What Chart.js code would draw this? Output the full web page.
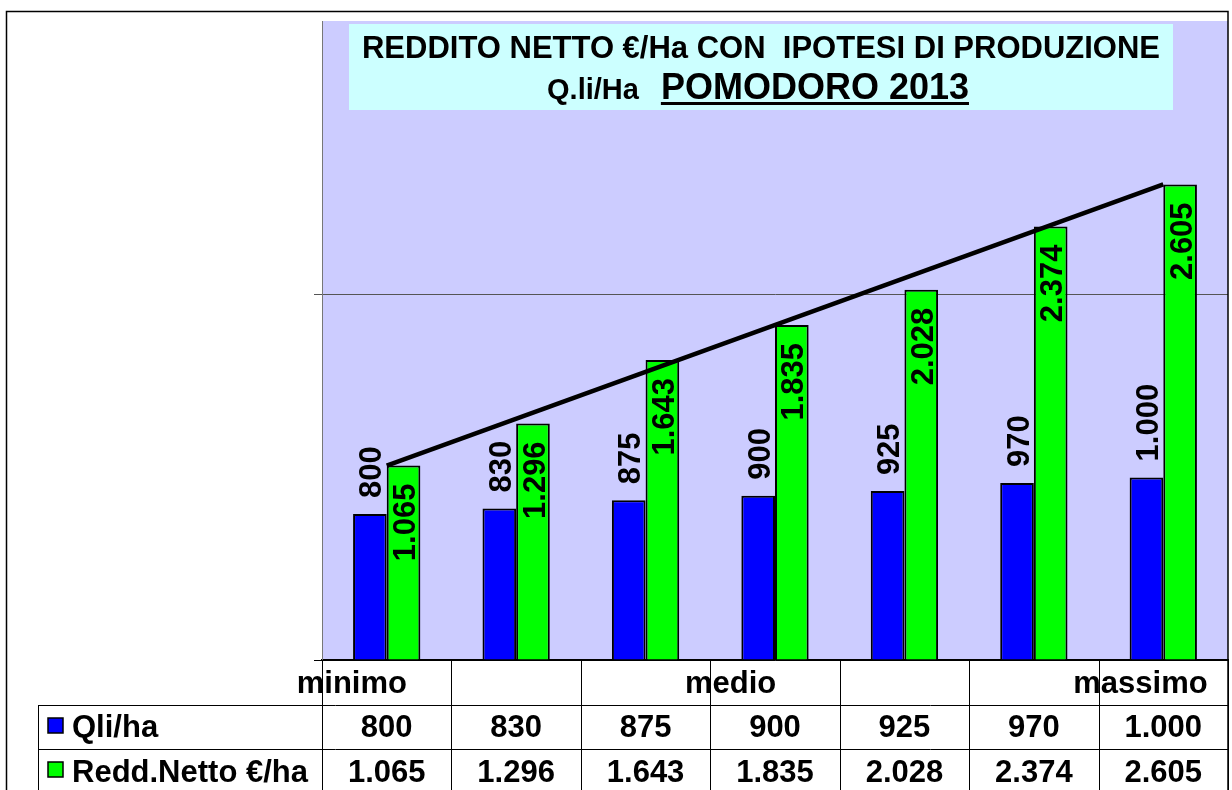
<!DOCTYPE html>
<html>
<head>
<meta charset="utf-8">
<script src="https://cdn.jsdelivr.net/npm/chart.js@4.4.0/dist/chart.umd.min.js"></script>
<style>
  html, body { margin: 0; padding: 0; background: #fff; }
  #wrap { width: 1232px; height: 790px; position: relative; }
</style>
</head>
<body>
<div id="wrap"><canvas id="grafico"></canvas></div>
<script>
// dati del grafico
const categorie = ["minimo", "", "", "medio", "", "", "massimo"];
const qliHa = [800, 830, 875, 900, 925, 970, 1000];
const reddNetto = [1065, 1296, 1643, 1835, 2028, 2374, 2605];
const nomiSerie = ["Qli/ha", "Redd.Netto €/ha"];
const yTicks = [0, 2000, 3500];
const titolo1 = "REDDITO NETTO €/Ha CON  IPOTESI DI PRODUZIONE";
const titolo2a = "Q.li/Ha";
const titolo2b = "POMODORO 2013";

const font = "'Liberation Sans', Arial, sans-serif";
const fmt = v => String(v).replace(/\B(?=(\d{3})+(?!\d))/g, ".");
const ultimo = reddNetto.length - 1;
// linea dal primo all'ultimo valore del reddito
const linea = reddNetto.map((v, i) => (i === 0 || i === ultimo) ? v : null);

const disegno = {
  id: "disegno",
  beforeDraw(chart) {
    const { ctx, chartArea: a } = chart;
    ctx.save();
    ctx.fillStyle = "#fff";
    ctx.fillRect(0, 0, chart.width, chart.height);
    ctx.fillStyle = "#CCCCFF";
    ctx.fillRect(a.left, a.top, a.right - a.left, a.bottom - a.top);
    ctx.restore();
  },
  afterDatasetsDraw(chart) {
    const ctx = chart.ctx;
    ctx.save();
    ctx.font = "bold 31px " + font;
    ctx.fillStyle = "#000";
    ctx.textBaseline = "middle";
    chart.getDatasetMeta(0).data.forEach((bar, i) => {
      ctx.save();
      ctx.translate(bar.x + 3, bar.y - 16);
      ctx.rotate(-Math.PI / 2);
      ctx.textAlign = "left";
      ctx.fillText(fmt(qliHa[i]), 0, 0);
      ctx.restore();
    });
    chart.getDatasetMeta(1).data.forEach((bar, i) => {
      ctx.save();
      ctx.translate(bar.x + 3, bar.y + 18);
      ctx.rotate(-Math.PI / 2);
      ctx.textAlign = "right";
      ctx.fillText(fmt(reddNetto[i]), 0, 0);
      ctx.restore();
    });
    ctx.restore();
  },
  afterDraw(chart) {
    const { ctx, chartArea: a } = chart;
    const x = chart.scales.x;
    ctx.save();

    // titolo
    ctx.fillStyle = "#CCFFFF";
    ctx.fillRect(349, 24, 824, 86);
    ctx.fillStyle = "#000";
    ctx.textBaseline = "alphabetic";
    ctx.textAlign = "center";
    ctx.font = "bold 31px " + font;
    ctx.fillText(titolo1, 761, 58);
    ctx.textAlign = "left";
    ctx.font = "bold 29px " + font;
    const w1 = ctx.measureText(titolo2a).width;
    ctx.font = "bold 36px " + font;
    const w2 = ctx.measureText(titolo2b).width;
    const gap = 22;
    let tx = 758 - (w1 + gap + w2) / 2;
    ctx.font = "bold 29px " + font;
    ctx.fillText(titolo2a, tx, 99);
    tx += w1 + gap;
    ctx.font = "bold 36px " + font;
    ctx.fillText(titolo2b, tx, 99);
    ctx.fillRect(tx, 102, w2, 3);

    // tabella dati
    const r0 = a.bottom, r1 = r0 + 45, r2 = r1 + 44, r3 = r2 + 44;
    const colW = (a.right - a.left) / categorie.length;
    ctx.strokeStyle = "#000";
    ctx.lineWidth = 1;
    ctx.beginPath();
    [r1, r2].forEach(y => { ctx.moveTo(38, y + 0.5); ctx.lineTo(a.right, y + 0.5); });
    ctx.moveTo(38.5, r1); ctx.lineTo(38.5, r3);
    for (let k = 0; k <= categorie.length; k++) {
      const xx = Math.round(a.left + k * colW) + 0.5;
      ctx.moveTo(xx, r0); ctx.lineTo(xx, r3);
    }
    ctx.stroke();

    ctx.font = "bold 31px " + font;
    ctx.textAlign = "left";
    categorie.forEach((c, i) => {
      if (c) ctx.fillText(c, x.getPixelForValue(i) - 90, r0 + 33);
    });
    ctx.textAlign = "center";
    qliHa.forEach((v, i) => ctx.fillText(fmt(v), x.getPixelForValue(i), r1 + 32));
    reddNetto.forEach((v, i) => ctx.fillText(fmt(v), x.getPixelForValue(i), r2 + 33));

    // legenda nella tabella
    const colori = ["#0000FF", "#00FF00"];
    [r1, r2].forEach((ry, j) => {
      ctx.fillStyle = colori[j];
      ctx.fillRect(48, ry + 13, 15, 15);
      ctx.lineWidth = 1.5;
      ctx.strokeRect(48, ry + 13, 15, 15);
      ctx.fillStyle = "#000";
      ctx.textAlign = "left";
      ctx.fillText(nomiSerie[j], 72, ry + 32 + j);
    });

    // bordo esterno
    ctx.lineWidth = 1.5;
    ctx.strokeStyle = "#000";
    ctx.strokeRect(6.5, 11.5, 1221.5, 800);
    ctx.restore();
  }
};

const ctx = document.getElementById("grafico");

new Chart(ctx, {
  data: {
    labels: categorie,
    datasets: [
      {
        type: "bar",
        label: nomiSerie[0],
        data: qliHa,
        backgroundColor: "#0000FF",
        borderColor: "#000",
        borderWidth: 2,
        categoryPercentage: 0.52,
        barPercentage: 1,
        order: 1
      },
      {
        type: "bar",
        label: nomiSerie[1],
        data: reddNetto,
        backgroundColor: "#00FF00",
        borderColor: "#000",
        borderWidth: 2,
        categoryPercentage: 0.52,
        barPercentage: 1,
        order: 1
      },
      {
        type: "line",
        label: "andamento",
        data: linea,
        spanGaps: true,
        borderColor: "#000",
        borderWidth: 4.5,
        pointRadius: 0,
        order: 0
      }
    ]
  },
  options: {
    responsive: true,
    maintainAspectRatio: false,
    animation: false,
    layout: { padding: { left: 314, top: 21, right: 4, bottom: 122 } },
    plugins: { legend: { display: false }, tooltip: { enabled: false } },
    scales: {
      x: {
        grid: { display: false },
        ticks: { display: false },
        border: { color: "#000", width: 1.5 }
      },
      y: {
        min: 0,
        max: 3500,
        afterBuildTicks: s => { s.ticks = yTicks.map(v => ({ value: v })); },
        ticks: { display: false },
        grid: {
          color: c => (c.tick && c.tick.value === 3500) ? "transparent" : (c.tick && c.tick.value === 0 ? "#000" : "#555"),
          tickLength: 8,
          lineWidth: 1
        },
        border: { color: "#777", width: 1 }
      }
    }
  },
  plugins: [disegno]
});
</script>
</body>
</html>
